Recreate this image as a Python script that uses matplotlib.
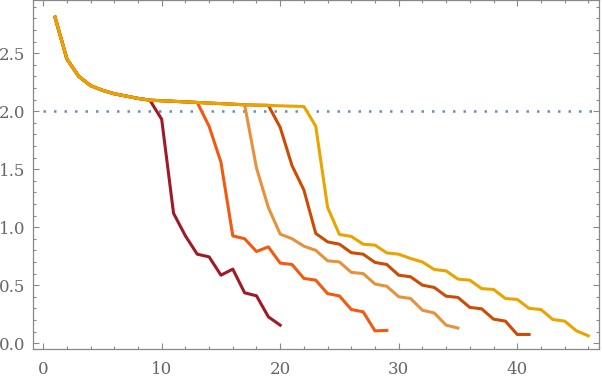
import matplotlib.pyplot as plt
from matplotlib.ticker import MultipleLocator

# shared start of every curve, x = 1..22
head = [2.81, 2.45, 2.30, 2.22, 2.18, 2.15, 2.13, 2.11, 2.095, 2.09, 2.085,
        2.08, 2.075, 2.07, 2.065, 2.06, 2.055, 2.052, 2.05, 2.046, 2.043, 2.04]

# where each curve leaves the shared head, and what follows
split = [9, 13, 17, 19, 22]
tails = [
    [1.93, 1.12, 0.925, 0.767, 0.744, 0.586, 0.638, 0.434, 0.408, 0.227, 0.155],
    [1.87, 1.56, 0.925, 0.90, 0.79, 0.83, 0.69, 0.678, 0.558, 0.543, 0.427,
     0.407, 0.29, 0.27, 0.106, 0.11],
    [1.51, 1.17, 0.94, 0.90, 0.836, 0.80, 0.71, 0.70, 0.61, 0.60, 0.51, 0.49,
     0.40, 0.385, 0.284, 0.26, 0.155, 0.13],
    [1.86, 1.53, 1.32, 0.946, 0.873, 0.853, 0.78, 0.767, 0.696, 0.678, 0.586,
     0.572, 0.50, 0.48, 0.405, 0.394, 0.308, 0.296, 0.207, 0.19, 0.075, 0.075],
    [1.87, 1.17, 0.937, 0.92, 0.853, 0.845, 0.778, 0.767, 0.73, 0.70, 0.635,
     0.623, 0.552, 0.543, 0.47, 0.463, 0.385, 0.377, 0.30, 0.29, 0.204, 0.19,
     0.106, 0.063],
]
colors = ['#9e1a26', '#f25a10', '#e6923c', '#cc4c04', '#eaa400']
level = 2.0

fig = plt.figure(figsize=(6.02, 3.86), dpi=100)
ax = fig.add_axes([0.054, 0.096, 0.941, 0.903])

ax.plot([0, 48], [level, level], color='#6a8cc0', lw=1.8,
        linestyle=(0, (1, 3.2)), dash_capstyle='butt', zorder=1)

for s, t, c in zip(split, tails, colors):
    ys = head[:s] + t
    xs = list(range(1, len(ys) + 1))
    ax.plot(xs, ys, color=c, lw=2.2, solid_joinstyle='round', zorder=2)

ax.set_xlim(-0.9, 46.9)
ax.set_ylim(-0.05, 2.955)
ax.xaxis.set_major_locator(MultipleLocator(10))
ax.xaxis.set_minor_locator(MultipleLocator(2))
ax.yaxis.set_major_locator(MultipleLocator(0.5))
ax.yaxis.set_minor_locator(MultipleLocator(0.1))
ax.yaxis.set_major_formatter(plt.FuncFormatter(lambda v, p: f'{v:.1f}'))

for sp in ax.spines.values():
    sp.set_color('#888888')
    sp.set_linewidth(0.9)
ax.tick_params(which='both', direction='in', top=True, right=True,
               color='#888888', width=0.8, labelcolor='#666666')
ax.tick_params(which='major', length=4)
ax.tick_params(which='minor', length=2.2)
ax.tick_params(axis='x', pad=9)
ax.tick_params(axis='y', pad=5)
for lab in ax.get_xticklabels() + ax.get_yticklabels():
    lab.set_fontfamily('DejaVu Serif')
    lab.set_fontsize(12)

fig.savefig('out.png', dpi=100)
